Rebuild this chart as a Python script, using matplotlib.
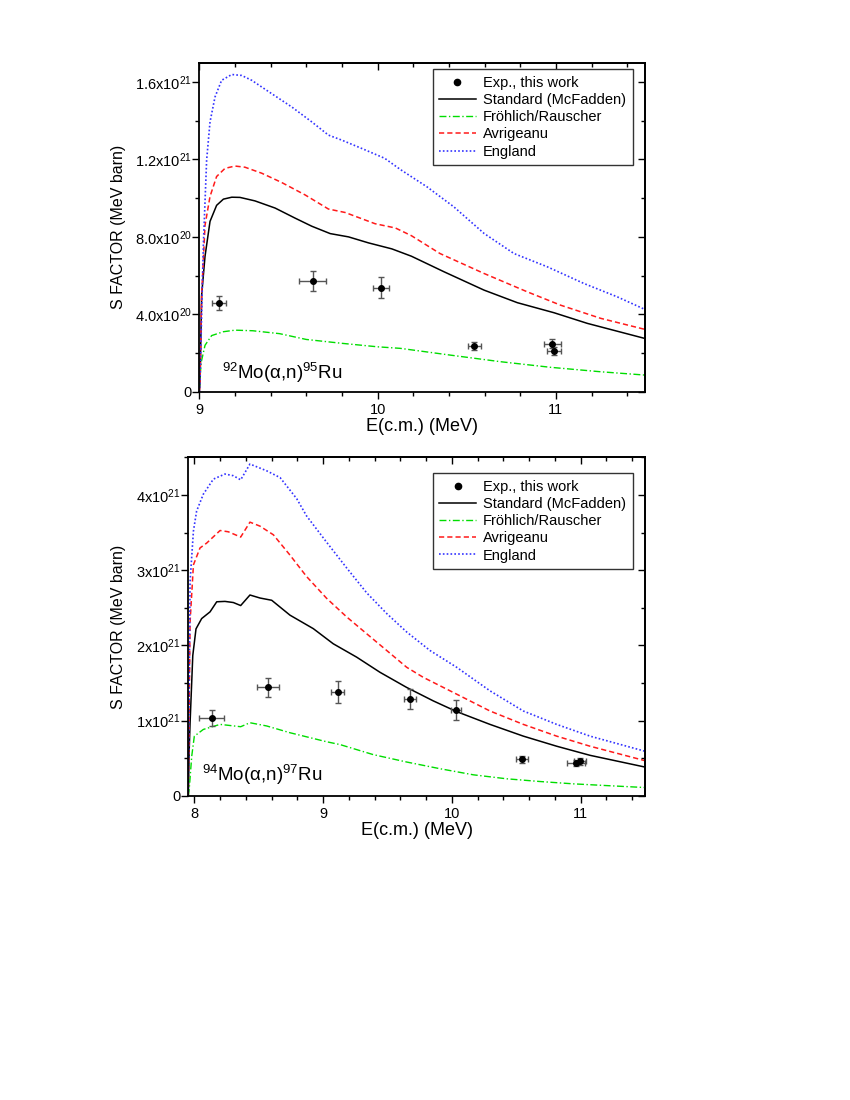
import matplotlib
matplotlib.use("Agg")
import matplotlib.pyplot as plt
import numpy as np
from matplotlib.lines import Line2D
from matplotlib.ticker import MultipleLocator

plt.rcParams.update({
    "font.family": ["Liberation Sans", "DejaVu Sans"],
    "mathtext.fontset": "custom",
    "mathtext.rm": "Liberation Sans",
    "mathtext.it": "Liberation Sans:italic",
    "mathtext.bf": "Liberation Sans:bold",
})

UNIT = 1e21  # all S values below are in units of 1e21 MeV barn

# ---- 92Mo(a,n)95Ru ----
mo92_exp_e = [9.11, 9.635, 10.02, 10.543, 10.98, 10.99]
mo92_exp_s = [0.457, 0.571, 0.538, 0.236, 0.248, 0.212]
mo92_exp_xerr = [0.04, 0.076, 0.046, 0.037, 0.049, 0.039]
mo92_exp_yerr = [0.035, 0.052, 0.056, 0.02, 0.022, 0.02]

mo92_std_e = [9.0, 9.004, 9.013, 9.032, 9.06, 9.097, 9.135, 9.182, 9.228, 9.312, 9.425, 9.537,
              9.631, 9.734, 9.837, 9.949, 10.08, 10.19, 10.372, 10.597, 10.784, 10.99, 11.177, 11.5]
mo92_std_s = [0.0, 0.05, 0.5, 0.70, 0.88, 0.963, 0.995, 1.005, 1.004, 0.986, 0.949, 0.897,
              0.855, 0.817, 0.8, 0.769, 0.738, 0.70, 0.62, 0.525, 0.46, 0.408, 0.353, 0.275]

mo92_fr_e = [9.0, 9.01, 9.032, 9.069, 9.135, 9.2, 9.30, 9.45, 9.6, 9.8, 10.0, 10.128, 10.409,
             10.69, 10.971, 11.252, 11.5]
mo92_fr_s = [0.02, 0.15, 0.24, 0.29, 0.31, 0.318, 0.315, 0.30, 0.27, 0.25, 0.232, 0.224, 0.189,
             0.155, 0.126, 0.103, 0.086]

mo92_av_e = [9.0, 9.004, 9.013, 9.032, 9.06, 9.097, 9.144, 9.2, 9.256, 9.35, 9.462, 9.593, 9.724,
             9.818, 9.986, 10.1, 10.19, 10.35, 10.597, 10.84, 11.027, 11.252, 11.5]
mo92_av_s = [0.0, 0.05, 0.5, 0.86, 1.009, 1.112, 1.154, 1.166, 1.16, 1.129, 1.081, 1.017, 0.944,
             0.926, 0.868, 0.846, 0.806, 0.714, 0.611, 0.516, 0.447, 0.379, 0.322]

mo92_en_e = [9.0, 9.004, 9.013, 9.023, 9.041, 9.06, 9.088, 9.125, 9.182, 9.238, 9.294, 9.406,
             9.519, 9.631, 9.724, 9.799, 9.911, 10.04, 10.128, 10.278, 10.428, 10.597, 10.765,
             10.953, 11.158, 11.345, 11.5]
mo92_en_s = [0.0, 0.05, 0.4, 0.769, 1.197, 1.394, 1.523, 1.609, 1.639, 1.634, 1.609, 1.54,
             1.471, 1.394, 1.326, 1.30, 1.257, 1.206, 1.148, 1.058, 0.955, 0.818, 0.714,
             0.645, 0.559, 0.49, 0.425]

# ---- 94Mo(a,n)97Ru ----
mo94_exp_e = [8.135, 8.57, 9.113, 9.677, 10.032, 10.547, 10.964, 10.995]
mo94_exp_s = [1.036, 1.442, 1.379, 1.286, 1.138, 0.487, 0.4375, 0.46]
mo94_exp_xerr = [0.096, 0.085, 0.053, 0.047, 0.041, 0.047, 0.072, 0.047]
mo94_exp_yerr = [0.105, 0.127, 0.15, 0.134, 0.134, 0.045, 0.045, 0.045]

mo94_std_e = [7.953, 7.96, 7.967, 7.988, 8.013, 8.057, 8.122, 8.174, 8.238, 8.303, 8.36, 8.432,
              8.51, 8.601, 8.743, 8.924, 9.079, 9.261, 9.442, 9.649, 9.856, 10.037, 10.296,
              10.555, 10.814, 11.073, 11.5]
mo94_std_s = [0.0, 0.6, 0.97, 1.866, 2.22, 2.357, 2.446, 2.58, 2.585, 2.57, 2.53, 2.67, 2.63,
              2.6, 2.402, 2.223, 2.022, 1.844, 1.643, 1.442, 1.263, 1.121, 0.951, 0.795, 0.661,
              0.54, 0.384]

mo94_fr_e = [7.953, 7.96, 7.98, 8.0, 8.07, 8.2, 8.36, 8.432, 8.562, 8.743, 9.028, 9.131, 9.39,
             9.649, 9.908, 10.167, 10.426, 10.684, 10.943, 11.2, 11.5]
mo94_fr_s = [0.0, 0.084, 0.53, 0.794, 0.884, 0.951, 0.92, 0.973, 0.93, 0.84, 0.72, 0.683, 0.549,
             0.451, 0.362, 0.281, 0.228, 0.192, 0.161, 0.138, 0.112]

mo94_av_e = [7.953, 7.967, 7.993, 8.044, 8.096, 8.2, 8.264, 8.36, 8.432, 8.51, 8.614, 8.743,
             8.872, 9.028, 9.183, 9.338, 9.494, 9.649, 9.778, 10.037, 10.296, 10.555, 10.814,
             11.073, 11.5]
mo94_av_s = [0.0, 2.31, 3.07, 3.295, 3.36, 3.527, 3.51, 3.44, 3.638, 3.585, 3.47, 3.2, 2.915,
             2.625, 2.379, 2.156, 1.933, 1.71, 1.576, 1.353, 1.129, 0.951, 0.795, 0.661, 0.469]

mo94_en_e = [7.953, 7.967, 7.993, 8.018, 8.07, 8.148, 8.238, 8.303, 8.36, 8.432, 8.562, 8.666,
             8.795, 8.872, 9.028, 9.183, 9.338, 9.494, 9.649, 9.83, 10.037, 10.296, 10.555,
             10.814, 11.073, 11.5]
mo94_en_s = [0.0, 2.85, 3.52, 3.786, 4.01, 4.21, 4.277, 4.255, 4.2, 4.41, 4.32, 4.23, 3.95,
             3.72, 3.37, 3.03, 2.7, 2.424, 2.179, 1.933, 1.71, 1.397, 1.129, 0.951, 0.795, 0.594]

# tick labels
top_yticks = [0, 0.4, 0.8, 1.2, 1.6]
top_ylabels = ["0", r"4.0x10$^{20}$", r"8.0x10$^{20}$", r"1.2x10$^{21}$", r"1.6x10$^{21}$"]
bot_yticks = [0, 1, 2, 3, 4]
bot_ylabels = ["0", r"1x10$^{21}$", r"2x10$^{21}$", r"3x10$^{21}$", r"4x10$^{21}$"]
top_xticks = [9, 10, 11]
bot_xticks = [8, 9, 10, 11]

LABELS = ["Exp., this work", "Standard (McFadden)", "Fröhlich/Rauscher", "Avrigeanu", "England"]
C_STD, C_FR, C_AV, C_EN = "black", "#00dd00", "#ff1a1a", "#3333ff"
STYLES = {  # line kwargs shared by curves and legend handles
    "std": dict(color=C_STD, lw=1.1),
    "fr": dict(color=C_FR, lw=1.0, dashes=(5, 1.8, 1, 1.8)),
    "av": dict(color=C_AV, lw=1.1, dashes=(3.4, 2.0)),
    "en": dict(color=C_EN, lw=1.2, dashes=(1, 1.3)),
}


def scaled(v):
    return np.array(v) * UNIT


def draw(ax, exp, curves, xlim, ylim, yticks, ylabels, xticks, yminor, reaction, rpos,
         leg_anchor, ylab_x):
    for key, (ce, cs) in zip(["std", "fr", "av", "en"], curves):
        ax.plot(ce, scaled(cs), **STYLES[key])
    e, s, xe, ye = exp
    ax.errorbar(e, scaled(s), xerr=xe, yerr=scaled(ye), fmt="o", color="black", ms=4,
                ecolor="#555555", elinewidth=1.0, capsize=2.5, capthick=1.0, zorder=5)
    ax.set_xlim(*xlim)
    ax.set_ylim(ylim[0] * UNIT, ylim[1] * UNIT)
    ax.set_xticks(xticks)
    ax.set_yticks(scaled(yticks))
    ax.set_yticklabels(ylabels)
    ax.xaxis.set_minor_locator(MultipleLocator(0.2))
    ax.yaxis.set_minor_locator(MultipleLocator(yminor * UNIT))
    ax.tick_params(which="both", labelsize=10.5, width=1.0)
    ax.tick_params(which="major", length=5)
    ax.tick_params(which="minor", length=3)
    ax.tick_params(axis="x", which="both", direction="out", top=False, pad=3)
    ax.tick_params(axis="y", which="both", direction="out", right=False, pad=0.5)
    sec_x = ax.secondary_xaxis("top")
    sec_x.set_xticks(xticks)
    sec_x.xaxis.set_minor_locator(MultipleLocator(0.2))
    sec_x.tick_params(which="both", direction="in", labeltop=False, width=1.0)
    sec_x.tick_params(which="major", length=5)
    sec_x.tick_params(which="minor", length=3)
    sec_y = ax.secondary_yaxis("right")
    sec_y.set_yticks(scaled(yticks))
    sec_y.yaxis.set_minor_locator(MultipleLocator(yminor * UNIT))
    sec_y.tick_params(which="both", direction="in", labelright=False, width=1.0)
    sec_y.tick_params(which="major", length=5)
    sec_y.tick_params(which="minor", length=3)
    for sp in list(ax.spines.values()) + list(sec_x.spines.values()) + list(sec_y.spines.values()):
        sp.set_linewidth(1.3)
    ax.set_xlabel("E(c.m.) (MeV)", fontsize=13, labelpad=1)
    ax.set_ylabel("S FACTOR (MeV barn)", fontsize=11.5)
    ax.yaxis.set_label_coords(ylab_x, 0.5)
    ax.text(rpos[0], rpos[1], reaction, transform=ax.transAxes, fontsize=13.5, va="center", ha="left")

    handles = [Line2D([0], [0], ls="none", marker="o", color="black", ms=4.5)]
    handles += [Line2D([0], [0], **STYLES[k]) for k in ["std", "fr", "av", "en"]]
    leg = ax.legend(handles, LABELS, loc="upper right", bbox_to_anchor=leg_anchor,
                    borderaxespad=0, fontsize=10.5, fancybox=False, framealpha=1,
                    edgecolor="#333333", handlelength=2.5, handletextpad=0.5,
                    labelspacing=0.22, borderpad=0.45)
    leg.get_frame().set_linewidth(1.0)


fig = plt.figure(figsize=(8.5, 11), dpi=100)

ax1 = fig.add_axes([0.2345, 0.6439, 0.5243, 0.2991])
draw(ax1, (mo92_exp_e, mo92_exp_s, mo92_exp_xerr, mo92_exp_yerr),
     [(mo92_std_e, mo92_std_s), (mo92_fr_e, mo92_fr_s), (mo92_av_e, mo92_av_s), (mo92_en_e, mo92_en_s)],
     (9.0, 11.5), (0, 1.7), top_yticks, top_ylabels, top_xticks, 0.2,
     r"$^{92}$Mo(α,n)$^{95}$Ru", (0.05, 0.057), (0.972, 0.98), -0.164)

ax2 = fig.add_axes([0.2215, 0.2764, 0.5373, 0.3079])
draw(ax2, (mo94_exp_e, mo94_exp_s, mo94_exp_xerr, mo94_exp_yerr),
     [(mo94_std_e, mo94_std_s), (mo94_fr_e, mo94_fr_s), (mo94_av_e, mo94_av_s), (mo94_en_e, mo94_en_s)],
     (7.953, 11.5), (0, 4.5), bot_yticks, bot_ylabels, bot_xticks, 0.5,
     r"$^{94}$Mo(α,n)$^{97}$Ru", (0.029, 0.062), (0.973, 0.953), -0.136)

fig.savefig("out.png", dpi=100)
